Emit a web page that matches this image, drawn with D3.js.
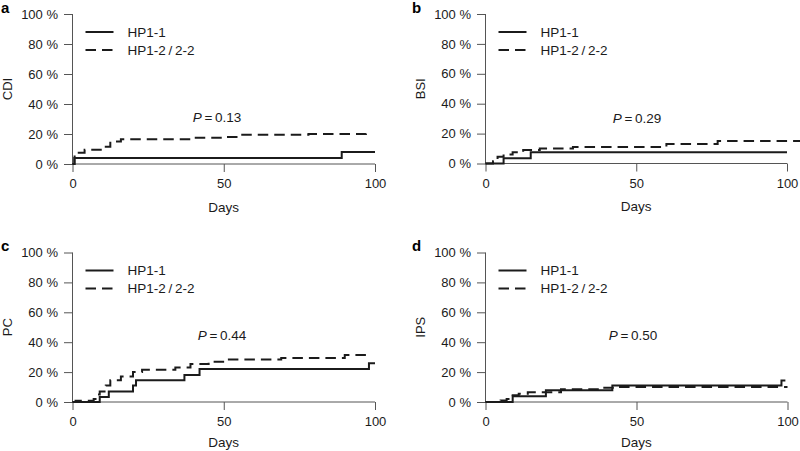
<!DOCTYPE html>
<html>
<head>
<meta charset="utf-8">
<script src="https://cdn.jsdelivr.net/npm/d3@7"></script>
<style>
  html, body { margin: 0; padding: 0; background: #fff; }
  svg { display: block; font-family: "Liberation Sans", Arial, Helvetica, sans-serif; }
</style>
</head>
<body>
<svg id="chart" width="800" height="451"></svg>
<script>
// ---- data ----
const panelLetters = ["a", "b", "c", "d"];
const panelOutcomes = ["CDI", "BSI", "PC", "IPS"];
const pValues = ["0.13", "0.29", "0.44", "0.50"];
const seriesNames = ["HP1-1", "HP1-2\u2009/\u20092-2"];
const xTicks = [0, 50, 100];
const yTicks = [0, 20, 40, 60, 80, 100];
const xLabel = "Days";

// [day, cumulative incidence %]
const cdiHP11 = [[0,0],[0.6,4],[89,8],[100,8]];
const cdiHP12 = [[0,0],[0.7,7.5],[4,9.5],[11,11.5],[12.5,15],[16,16.5],[40,17.5],[50,18],[55,19.5],[78,20],[97,21],[98,21]];
const bsiHP11 = [[0,0],[6,3.5],[15,7.5],[100,7.5]];
const bsiHP12 = [[0,0],[2.5,1.5],[4,4.5],[6,6],[9,7.5],[12.5,9],[18,10],[29,11],[60,13],[77,15],[104.5,15]];
const pcHP11 = [[0,0],[9,3.3],[12,7],[20,11],[21,14.5],[37,18],[42,22],[98,26],[100,26]];
const pcHP12 = [[0,0],[1,0.8],[7,2],[8,5],[9,7],[11,11],[12.5,14.5],[16,17],[20,20],[23,21.5],[34,23],[39,25.5],[45,27],[51,28.5],[69,29.5],[90,31.5],[97.5,31.5]];
const ipsHP11 = [[0,0],[9,3.8],[20,7.8],[42,11],[98,14.3],[99.3,14.3]];
const ipsHP12 = [[0,0],[5,1],[7,2],[9,4.5],[11,5.5],[14,6.5],[25,8.5],[38,9.5],[43,10],[100,10]];

const solidSeries = [cdiHP11, bsiHP11, pcHP11, ipsHP11];
const dashedSeries = [cdiHP12, bsiHP12, pcHP12, ipsHP12];

// ---- layout ----
const layout = [
  { x0: 72.5, x1: 375,  yb: 164,   yt: 14,    letterX: 1,   letterY: 13,  pX: 217, pY: 121.5, daysOff: 47.5 },
  { x0: 485.5, x1: 787, yb: 163.5, yt: 14,    letterX: 412, letterY: 13,  pX: 637, pY: 122.5, daysOff: 47.5 },
  { x0: 72.5, x1: 375,  yb: 402,   yt: 252.5, letterX: 1,   letterY: 250.5, pX: 222, pY: 340, daysOff: 44.5 },
  { x0: 485.5, x1: 787.5, yb: 402, yt: 252.5, letterX: 412, letterY: 250.5, pX: 633, pY: 340, daysOff: 44.5 }
];

const ink = "#1b1b1b";
const axisInk = "#555";
const fs = 13;
const svg = d3.select("#chart");

svg.append("defs").append("clipPath").attr("id", "clipAll")
  .append("rect").attr("x", 0).attr("y", 0).attr("width", 800).attr("height", 451);

layout.forEach((L, i) => {
  const g = svg.append("g");
  const x = d3.scaleLinear().domain([0, 100]).range([L.x0, L.x1]);
  const y = d3.scaleLinear().domain([0, 100]).range([L.yb, L.yt]);

  // y axis
  const yAxis = g.append("g").attr("transform", `translate(${L.x0},0)`)
    .call(d3.axisLeft(y).tickValues(yTicks).tickSize(8.5).tickPadding(6)
      .tickFormat(d => d + " %"));
  yAxis.select(".domain").attr("stroke", axisInk).attr("d", `M-0,${y(0)}V${y(100)}`);
  yAxis.selectAll(".tick line").attr("stroke", axisInk);
  yAxis.selectAll("text").attr("fill", ink).style("font-size", fs + "px");

  // x axis
  const xAxis = g.append("g").attr("transform", `translate(0,${L.yb})`)
    .call(d3.axisBottom(x).tickValues(xTicks).tickSize(8).tickPadding(7));
  xAxis.select(".domain").attr("stroke", axisInk).attr("d", `M${x(0)},0H${x(100)}`);
  xAxis.selectAll(".tick line").attr("stroke", axisInk);
  xAxis.selectAll("text").attr("fill", ink).style("font-size", fs + "px");

  // axis titles
  g.append("text").attr("x", (L.x0 + L.x1) / 2).attr("y", L.yb + L.daysOff)
    .attr("text-anchor", "middle").attr("fill", ink).style("font-size", "13.5px").text(xLabel);
  g.append("text")
    .attr("transform", `translate(${L.x0 - 61},${(L.yb + L.yt) / 2}) rotate(-90)`)
    .attr("text-anchor", "middle").attr("fill", ink).style("font-size", fs + "px")
    .text(panelOutcomes[i]);

  // panel letter
  g.append("text").attr("x", L.letterX).attr("y", L.letterY)
    .attr("fill", "#000").style("font-size", "15px").style("font-weight", "bold")
    .text(panelLetters[i]);

  // curves
  const line = d3.line().x(d => x(d[0])).y(d => y(d[1])).curve(d3.curveStepAfter);
  const cg = g.append("g").attr("clip-path", "url(#clipAll)");
  cg.append("path").datum(dashedSeries[i]).attr("d", line)
    .attr("fill", "none").attr("stroke", ink).attr("stroke-width", 2)
    .attr("stroke-dasharray", "10.5,6");
  cg.append("path").datum(solidSeries[i]).attr("d", line)
    .attr("fill", "none").attr("stroke", ink).attr("stroke-width", 2);

  // legend
  const lx0 = L.x0 + 13, lx1 = L.x0 + 41, tx = L.x0 + 55;
  const ly = [L.yt + 18, L.yt + 36];
  seriesNames.forEach((name, k) => {
    g.append("line").attr("x1", lx0).attr("x2", lx1).attr("y1", ly[k]).attr("y2", ly[k])
      .attr("stroke", ink).attr("stroke-width", 2)
      .attr("stroke-dasharray", k === 1 ? "10.5,6" : null);
    g.append("text").attr("x", tx).attr("y", ly[k]).attr("dy", "0.36em")
      .attr("fill", ink).style("font-size", "13.5px").text(name);
  });

  // P value
  const pt = g.append("text").attr("x", L.pX).attr("y", L.pY)
    .attr("text-anchor", "middle").attr("fill", ink).style("font-size", "13.5px");
  pt.append("tspan").style("font-style", "italic").text("P");
  pt.append("tspan").text("\u2009=\u2009" + pValues[i]);
});
</script>
</body>
</html>
